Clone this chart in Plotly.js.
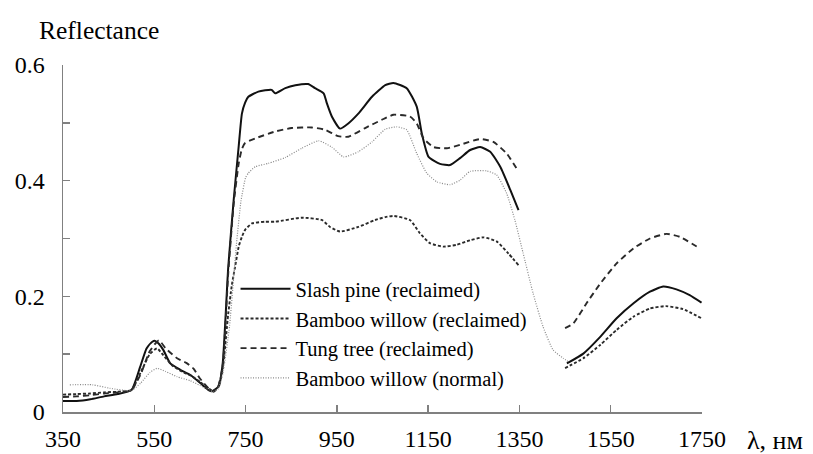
<!DOCTYPE html>
<html>
<head>
<meta charset="utf-8">
<script src="https://cdn.plot.ly/plotly-3.0.1.min.js"></script>
<style>html,body{margin:0;padding:0;background:#fff;}#chart{width:813px;height:454px;}</style>
</head>
<body>
<div id="chart"></div>
<script>
// Wavelength (nm) and reflectance readings for each series
const slashWl = [350,380,410,440,470,500,519,533,545,552,560,570,585,607,629,651,669,676,691,700,712,724,735,742,749,756,778,807,815,837,859,887,902,921,928,939,957,975,997,1027,1056,1074,1103,1125,1136,1151,1176,1198,1220,1242,1264,1286,1308,1330,1348,1400,1454,1490,1527,1563,1600,1636,1665,1694,1723,1749];
const slashR  = [0.019,0.019,0.022,0.027,0.031,0.038,0.078,0.110,0.121,0.123,0.118,0.107,0.084,0.073,0.064,0.050,0.038,0.036,0.044,0.085,0.25,0.367,0.46,0.516,0.535,0.545,0.554,0.557,0.551,0.56,0.565,0.567,0.56,0.551,0.534,0.511,0.49,0.499,0.516,0.545,0.565,0.569,0.56,0.528,0.482,0.441,0.429,0.427,0.439,0.453,0.458,0.45,0.424,0.384,0.349,null,0.084,0.101,0.130,0.162,0.188,0.208,0.217,0.212,0.202,0.189];

const bambooRecWl = [350,380,410,440,470,500,520,540,556,570,590,610,630,650,670,680,690,700,712,720,727,735,742,749,764,793,815,873,917,935,957,997,1034,1056,1074,1110,1132,1154,1183,1212,1242,1271,1300,1326,1348,1400,1450,1490,1527,1563,1600,1636,1671,1708,1749];
const bambooRecR  = [0.030,0.031,0.032,0.034,0.035,0.038,0.068,0.100,0.110,0.098,0.080,0.070,0.063,0.052,0.040,0.036,0.044,0.075,0.17,0.22,0.251,0.286,0.303,0.315,0.326,0.329,0.329,0.336,0.332,0.32,0.312,0.32,0.332,0.337,0.339,0.332,0.309,0.292,0.286,0.289,0.297,0.302,0.295,0.274,0.254,null,0.076,0.093,0.116,0.142,0.165,0.179,0.183,0.178,0.162];

const tungWl = [350,380,410,440,470,500,520,540,560,575,600,620,636,650,670,680,690,700,712,724,735,742,749,771,815,851,895,924,953,975,1012,1048,1074,1110,1125,1140,1162,1191,1220,1264,1293,1322,1344,1400,1450,1468,1497,1527,1563,1600,1636,1672,1701,1745];
const tungR  = [0.026,0.027,0.029,0.032,0.034,0.038,0.065,0.105,0.124,0.110,0.093,0.085,0.075,0.058,0.040,0.035,0.044,0.08,0.24,0.36,0.43,0.455,0.465,0.473,0.485,0.491,0.492,0.488,0.477,0.476,0.491,0.505,0.514,0.511,0.499,0.473,0.458,0.456,0.462,0.472,0.467,0.447,0.421,null,0.145,0.153,0.188,0.222,0.257,0.283,0.300,0.308,0.303,0.283];

const bambooNormWl = [365,415,453,500,520,540,556,575,600,629,650,670,680,690,700,715,730,740,750,756,771,800,837,873,910,939,965,997,1027,1056,1081,1103,1125,1147,1169,1198,1220,1242,1278,1300,1322,1340,1358,1380,1402,1424,1446,1457];
const bambooNormR  = [0.047,0.047,0.041,0.037,0.05,0.068,0.0755,0.07,0.061,0.054,0.046,0.038,0.035,0.04,0.065,0.15,0.29,0.365,0.405,0.413,0.424,0.43,0.44,0.456,0.469,0.458,0.441,0.45,0.467,0.489,0.493,0.488,0.447,0.413,0.398,0.393,0.401,0.416,0.417,0.41,0.378,0.332,0.275,0.205,0.147,0.107,0.093,0.087];

const seriesNames = ["Slash pine (reclaimed)","Bamboo willow (reclaimed)","Tung tree (reclaimed)","Bamboo willow (normal)"];
const xTicks = [350,550,750,950,1150,1350,1550,1750];
const yTicks = [0,0.1,0.2,0.3,0.4,0.5,0.6];
const yTickText = ["0","","0.2","","0.4","","0.6"];

const FONT = 'Liberation Serif, Times New Roman, serif';
const mk = (x,y,name,color,width,dash) => ({
  x:x, y:y, name:name, type:'scatter', mode:'lines', connectgaps:false,
  line:{color:color,width:width,dash:dash,shape:'spline',smoothing:0.5}
});

const data = [
  mk(slashWl,slashR,seriesNames[0],'#111',2,'solid'),
  mk(bambooRecWl,bambooRecR,seriesNames[1],'#2a2a2a',1.9,'3px,2px'),
  mk(tungWl,tungR,seriesNames[2],'#2a2a2a',1.9,'6px,4px'),
  mk(bambooNormWl,bambooNormR,seriesNames[3],'#8a8a8a',1.2,'1px,1.5px')
];

const layout = {
  width:813, height:454,
  margin:{l:63,r:111,t:65,b:42},
  paper_bgcolor:'#fff', plot_bgcolor:'#fff',
  font:{family:FONT,color:'#000',size:24},
  showlegend:true,
  legend:{x:0.27,y:0.412,xanchor:'left',yanchor:'top',bgcolor:'rgba(0,0,0,0)',
          font:{family:FONT,size:20.5,color:'#000'},itemwidth:50,tracegroupgap:0},
  xaxis:{range:[350,1750],tickvals:xTicks,ticktext:xTicks.map(String),
         showgrid:false,zeroline:false,showline:true,linecolor:'#808080',linewidth:1.5,
         ticks:'inside',ticklen:7,tickcolor:'#808080',tickwidth:1.5,ticklabelstandoff:5,
         tickfont:{family:FONT,size:24,color:'#000'},fixedrange:true},
  yaxis:{range:[0,0.6],tickvals:yTicks,ticktext:yTickText,
         showgrid:false,zeroline:false,showline:true,linecolor:'#808080',linewidth:1.5,
         ticks:'inside',ticklen:7,tickcolor:'#808080',tickwidth:1.5,ticklabelstandoff:12,
         tickfont:{family:FONT,size:24,color:'#000'},fixedrange:true},
  annotations:[
    {text:'Reflectance',xref:'paper',yref:'paper',x:-0.0407,y:1.10,xanchor:'left',yanchor:'middle',
     showarrow:false,font:{family:FONT,size:25.5,color:'#000'}},
    {text:'λ, нм',xref:'paper',yref:'paper',x:1.067,y:-0.081,xanchor:'left',yanchor:'middle',
     showarrow:false,font:{family:FONT,size:26,color:'#000'}}
  ]
};
Plotly.newPlot('chart',data,layout,{staticPlot:true,displayModeBar:false});
</script>
</body>
</html>
